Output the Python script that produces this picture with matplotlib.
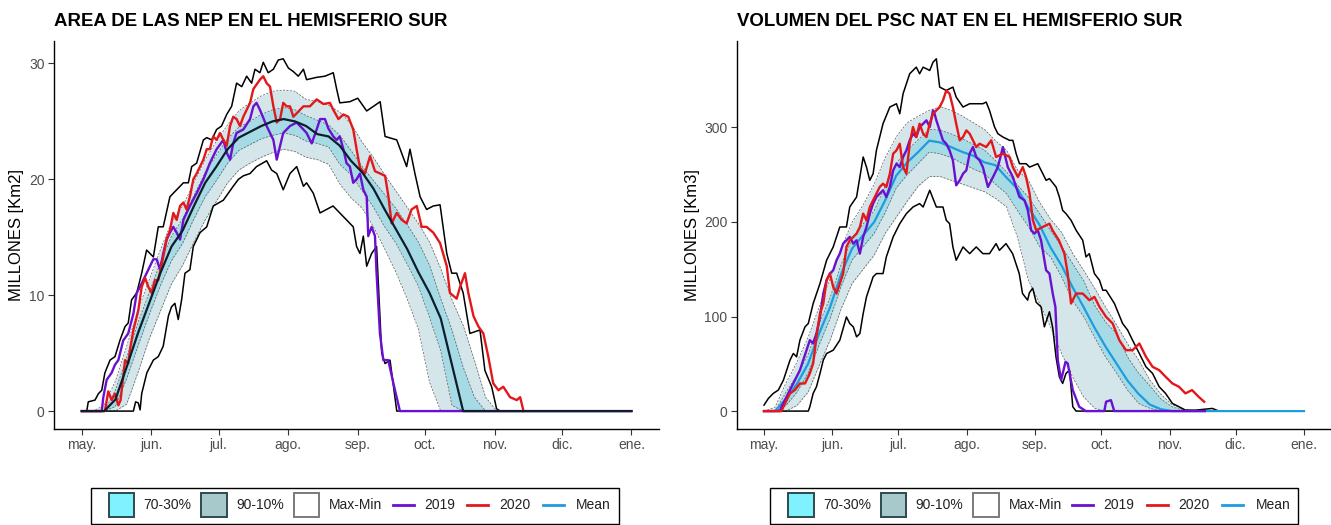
import numpy as np
import matplotlib.pyplot as plt
from matplotlib.patches import Rectangle

plt.rcParams['font.family'] = ['Liberation Sans', 'DejaVu Sans']

nan = np.nan

# days counted from 1 May: every 5 days up to 210, then 31 Dec
days = list(range(0, 215, 5)) + [245]

month_pos = [0, 31, 61, 92, 123, 153, 184, 214, 245]
month_lab = ['may.', 'jun.', 'jul.', 'ago.', 'sep.', 'oct.', 'nov.', 'dic.', 'ene.']

# ---- area of NAT (millions km2): climatology on the 5-day grid
area_mean = [0, 0, 0, 1.0, 3.8, 6.7, 9.3, 11.9, 14.2, 15.6,
             17.7, 19.7, 21.1, 22.6, 23.6, 24.1, 24.6, 25.0, 25.2, 25.0,
             24.6, 23.9, 23.7, 22.9, 21.6, 20.6, 19.2, 17.4, 15.7, 14.0,
             12.0, 10.2, 8.0, 4.0, 0, 0, 0, 0, 0, 0,
             0, 0, 0, 0]
area_p90 = [0, 0, 0.5, 2.6, 5.6, 8.7, 11.3, 13.9, 16.3, 17.7,
            19.7, 21.7, 23.3, 24.7, 25.9, 26.6, 27.2, 27.6, 27.7, 27.6,
            26.9, 26.7, 26.4, 25.8, 24.8, 23.2, 21.9, 20.4, 19.0, 17.6,
            16.2, 14.6, 12.3, 9.6, 7.4, 4.4, 1.2, 0, 0, 0,
            0, 0, 0, 0]
area_p70 = [0, 0, 0, 1.8, 4.6, 7.6, 10.2, 12.8, 15.1, 16.6,
            18.6, 20.6, 22.1, 23.5, 24.5, 25.0, 25.6, 26.0, 26.2, 26.0,
            25.5, 25.1, 24.7, 23.8, 22.5, 21.1, 19.9, 18.7, 17.5, 16.1,
            14.6, 12.6, 9.7, 7.0, 3.8, 1.2, 0, 0, 0, 0,
            0, 0, 0, 0]
area_p30 = [0, 0, 0, 0.4, 2.8, 5.6, 8.3, 10.8, 13.0, 14.5,
            16.6, 18.5, 19.9, 21.4, 22.5, 23.0, 23.5, 23.8, 24.0, 23.8,
            23.3, 23.1, 22.8, 21.3, 20.4, 19.0, 17.6, 15.9, 14.5, 12.7,
            10.8, 8.1, 5.2, 0.5, 0, 0, 0, 0, 0, 0,
            0, 0, 0, 0]
area_p10 = [0, 0, 0, 0, 0.6, 3.3, 6.2, 8.6, 11.0, 12.6,
            14.6, 16.5, 18.1, 19.7, 20.8, 21.4, 21.9, 22.3, 22.6, 22.4,
            21.9, 21.7, 21.3, 19.6, 18.4, 17.5, 15.9, 14.0, 12.0, 9.7,
            7.1, 2.5, 0, 0, 0, 0, 0, 0, 0, 0,
            0, 0, 0, 0]

# daily-ish traces as (day, value)
area_max = [(0, 0), (2.2, 0), (2.9, 0.8), (5.9, 0.95), (7.4, 1.5), (8.9, 1.8), (10.3, 3.3),
            (12.6, 4.4), (14.8, 4.7), (17, 6.1), (19.3, 7.3), (20.7, 7.6), (22.2, 9.6),
            (24.5, 10.2), (26.7, 11.9), (28.9, 13.9), (31.9, 13.3), (34.1, 15.9), (36.3, 15.9),
            (39.3, 18.5), (42.3, 19.1), (45.3, 19.7), (47.5, 19.7), (49, 21.1), (51.2, 21.4),
            (54.2, 23.4), (55.7, 23.6), (57.9, 23.4), (60.1, 24.3), (62.3, 24.6), (64.6, 25.6),
            (66.8, 26.3), (69, 28.3), (71.3, 28.0), (73.5, 28.9), (75.7, 28.3), (77.2, 29.5),
            (79.4, 29.2), (80.9, 30.1), (83.1, 29.2), (85.4, 29.5), (87.6, 30.3), (89.8, 30.4),
            (92.1, 29.6), (94.3, 29.3), (96.5, 28.9), (98.8, 29.5), (100.2, 28.6), (104.7, 28.8),
            (108.4, 28.9), (112.1, 29.2), (113.6, 27.8), (115, 26.6), (119.5, 26.7), (123, 27.0),
            (127, 25.9), (130, 26.3), (133, 26.7), (135.2, 23.7), (140.4, 23.4), (144.8, 21.1),
            (146.3, 22.6), (148.5, 20.5), (150.8, 18.5), (153.7, 17.4), (156.7, 17.7),
            (159.7, 17.8), (162.7, 13.6), (164.9, 11.9), (167.1, 11.9), (170, 10.2), (173, 6.7),
            (177.5, 7.0), (179.7, 3.5), (182.7, 2.1), (184.9, 0.2), (186.5, 0), (245, 0)]
area_min = [(0, 0), (23, 0), (24, 0.8), (25.2, 0.7), (26, 0.1), (26.7, 1.5), (29, 3.3),
            (31.9, 4.4), (34.1, 4.7), (36.3, 5.6), (38.6, 8.2), (40, 9.0), (41.5, 9.3), (43, 7.9),
            (44.5, 9.6), (46, 11.9), (48.2, 12.2), (49.7, 14.2), (52.7, 15.4), (55.7, 15.9),
            (58.6, 17.7), (63.1, 18.2), (67.5, 19.4), (69.8, 20.0), (72, 20.3), (75, 20.5),
            (77.9, 21.1), (82.4, 21.6), (84.6, 20.8), (86.9, 20.5), (89.8, 19.1), (92.8, 20.5),
            (95.8, 21.1), (98.8, 19.4), (100.2, 19.7), (103.2, 18.8), (106.2, 17.1), (109.1, 17.4),
            (112, 17.7), (115, 17.1), (118, 16.5), (121, 15.9), (122.5, 14.2), (124, 13.6),
            (125.5, 15.1), (127, 12.5), (129.2, 13.6), (131.4, 14.2), (133.7, 5.0), (135.2, 4.1),
            (137.4, 4.4), (140.4, 0), (245, 0)]
area_2019 = [(0, 0), (8.9, 0), (9.6, 1.2), (11.1, 2.7), (13.3, 3.3), (14.8, 4.0), (16.3, 4.4),
             (18.5, 6.1), (20.7, 6.7), (23, 8.4), (24.5, 10.2), (25.9, 10.7), (27.4, 11.3),
             (28.9, 11.9), (30.4, 12.5), (31.9, 13.1), (33.4, 13.1), (34.9, 12.2), (36.3, 13.6),
             (37.8, 14.8), (39.3, 15.4), (40.8, 15.9), (42.3, 15.4), (43.8, 14.8), (45.3, 16.5),
             (46.7, 17.1), (48.2, 17.7), (51.2, 18.8), (54.2, 20.0), (57.1, 21.4), (60.1, 22.6),
             (63.1, 23.4), (64.6, 22.3), (66.1, 21.7), (67.5, 23.1), (69, 24.0), (72, 24.3),
             (75, 25.2), (76.5, 26.3), (77.9, 26.6), (79.4, 26.0), (82.4, 24.6), (85.4, 23.4),
             (86.9, 21.7), (88.4, 22.9), (89.8, 24.0), (92.8, 24.6), (95.8, 24.9), (98.8, 24.3),
             (100.2, 24.0), (102.5, 23.1), (104.7, 24.3), (106.2, 25.2), (108.4, 25.2),
             (109.9, 24.4), (112.1, 23.7), (113.6, 23.4), (115, 23.7), (116.6, 22.6), (118, 21.4),
             (119.5, 21.1), (121, 19.7), (122.5, 20.0), (124, 20.5), (125.5, 19.1), (127, 18.5),
             (127.7, 15.1), (129.2, 15.9), (130.7, 15.1), (131.4, 11.9), (132.9, 6.7),
             (134.4, 4.4), (136.6, 4.4), (138.9, 2.4), (141.8, 0), (245, 0)]
area_2020 = [(0, 0), (10.3, 0), (11.8, 1.7), (13.3, 0.95), (14.8, 1.5), (16.3, 0.5), (17.3, 0.95),
             (19.3, 4.4), (20.7, 4.1), (21.5, 5.3), (23, 7.0), (25.2, 8.7), (26.7, 10.7),
             (28.2, 11.5), (29.7, 10.7), (31.1, 10.2), (32.6, 11.3), (34.1, 11.3), (36.3, 13.3),
             (37.8, 14.8), (39.3, 15.6), (40.8, 17.1), (42.3, 16.5), (43.8, 17.7), (45.3, 18.0),
             (46.7, 17.4), (48.2, 18.5), (49.7, 20.0), (51.2, 20.5), (54.2, 21.7), (55.7, 22.6),
             (57.1, 22.6), (58.6, 23.7), (60.1, 23.4), (61.6, 24.0), (63.1, 23.4), (64.6, 22.9),
             (66.1, 24.6), (67.5, 25.4), (69, 25.2), (70.5, 24.6), (72, 25.4), (75, 26.6),
             (76.5, 27.8), (79.4, 28.6), (80.9, 28.9), (82.4, 28.3), (83.9, 28.0), (85.4, 26.3),
             (86.9, 24.9), (88.4, 25.2), (89.8, 26.6), (91.3, 26.3), (92.8, 26.3), (94.3, 25.4),
             (95.8, 25.7), (98.8, 26.3), (101.7, 26.3), (104.7, 26.9), (107.7, 26.5),
             (110.6, 26.6), (112.1, 26.0), (114.4, 25.2), (116.6, 25.6), (118.8, 25.4),
             (121, 24.3), (122.5, 22.6), (124, 21.0), (126.2, 20.5), (128.5, 22.0), (130.7, 20.7),
             (133, 20.5), (135.2, 20.3), (136.7, 18.5), (138.1, 16.2), (140.4, 17.1),
             (142.6, 16.5), (144.8, 16.2), (147, 17.4), (149.3, 17.7), (151.5, 15.9),
             (153.7, 15.9), (156.7, 15.4), (159.7, 14.5), (162.7, 12.5), (164.1, 10.2),
             (167.1, 9.7), (168.6, 10.7), (170.8, 11.9), (172.3, 10.2), (174.6, 8.2), (176.8, 7.3),
             (179, 6.7), (181.2, 4.7), (183.4, 2.4), (185.7, 1.8), (187.9, 2.1), (190.9, 1.2),
             (193.9, 0.95), (195.4, 1.2), (196.9, 0)]

# ---- volume of NAT PSC (millions km3): climatology on the 5-day grid
vol_mean = [0, 0, 13, 29, 50, 82, 110, 145, 172, 186,
            200, 223, 249, 263, 274, 286, 284, 279, 274, 270,
            263, 260, 247, 235, 215, 197, 173, 154, 131, 110,
            88, 68, 50, 32, 18, 7, 2, 0, 0, 0,
            0, 0, 0, 0]
vol_p90 = [0, 4, 30, 52, 78, 110, 140, 172, 200, 218,
           240, 268, 290, 305, 312, 318, 322, 318, 312, 305,
           298, 286, 276, 255, 244, 221, 203, 189, 167, 149,
           130, 110, 91, 71, 54, 33, 18, 7, 2, 0.5,
           0, 0, 0, 0]
vol_p70 = [0, 0, 20, 38, 60, 92, 120, 155, 182, 198,
           212, 238, 262, 276, 287, 298, 297, 293, 288, 282,
           276, 265, 253, 239, 226, 209, 191, 174, 156, 138,
           112, 94, 82, 57, 40, 27, 13, 4.6, 1, 0,
           0, 0, 0, 0]
vol_p30 = [0, 0, 6, 20, 40, 70, 98, 132, 160, 174,
           188, 210, 236, 250, 262, 274, 272, 268, 262, 256,
           251, 240, 230, 212, 195, 174, 163, 142, 117, 100,
           78, 57, 40, 22, 8, 3, 0, 0, 0, 0,
           0, 0, 0, 0]
vol_p10 = [0, 0, 0, 6, 20, 48, 75, 108, 135, 150,
           165, 188, 205, 222, 238, 248, 248, 244, 240, 236,
           232, 225, 216, 184, 138, 114, 89, 61, 36, 15,
           3, 0, 0, 0, 0, 0, 0, 0, 0, 0,
           0, 0, 0, 0]

vol_max = [(0, 6.3), (2, 13.4), (4.2, 18.7), (6.5, 22.2), (8.8, 32.7), (11.8, 53.9), (13.3, 60.9),
           (14.8, 57.4), (16.3, 75), (18.6, 89.1), (20.1, 92.6), (22.3, 113.7), (25.4, 134.9),
           (28.4, 159.5), (31.4, 173.6), (34.4, 194.7), (37.4, 194.7), (38.9, 215.8),
           (42, 226.4), (45, 268.7), (46.5, 258), (48, 244), (49.5, 251), (51, 275.7),
           (54, 303.9), (57.1, 321.5), (60.1, 325), (61.6, 314.4), (63.1, 335.6), (66.1, 356.7),
           (69.1, 363.7), (70.6, 356.7), (72.2, 363.7), (75.2, 360.2), (76.7, 369),
           (78.2, 372.5), (79.7, 342.6), (82.7, 339), (85.7, 342.6), (87.2, 332), (90.3, 321.5),
           (93.3, 325), (96.3, 325), (99.3, 325), (100.8, 326.8), (102.3, 318), (104.6, 300.4),
           (106.1, 293.3), (108.4, 289.8), (111.4, 286.3), (112.9, 286.3), (114.4, 272.2),
           (115.9, 261.6), (118.9, 261.6), (120.5, 258), (124.2, 261.6), (126.5, 251),
           (128, 244), (129.5, 245.8), (132.5, 237), (134, 226.4), (135.5, 212.3), (137, 208.8),
           (139.3, 201.8), (141.6, 191.2), (144.6, 180.6), (146.1, 163), (147.6, 166.5),
           (149.9, 145.4), (152.2, 138.4), (153.7, 127.8), (155.2, 127.8), (159, 113.7),
           (162.7, 92.6), (165, 85.6), (167.2, 75), (170.3, 60.9), (173.3, 46.8), (176.3, 39.8),
           (179.3, 25.7), (182.2, 18.7), (185.3, 8.1), (188.3, 4.6), (191.2, 1), (195.8, 1),
           (203.4, 2.8), (206.4, 0), (245, 0)]
vol_min = [(0, 0), (20.1, 0), (20.8, 4.6), (22.3, 18.7), (23.8, 25.7), (25.4, 39.8), (26.9, 53.9),
           (28.4, 60.9), (31.4, 64.4), (34.4, 75), (37.4, 99.6), (38.9, 92.6), (40.5, 89.1),
           (42, 78.5), (43.5, 82), (45, 103.2), (46.5, 120.8), (48, 131.3), (49.5, 141.9),
           (51, 145.4), (54, 145.4), (55.5, 163), (58.6, 184.2), (61.6, 198.2), (64.6, 208.8),
           (67.6, 215.8), (70.6, 219.4), (72.2, 215.8), (75.2, 233.5), (78.2, 215.8),
           (81.2, 215.8), (82.7, 201.8), (84.2, 198.2), (85.7, 173.6), (87.2, 159.5),
           (90.3, 173.6), (93.3, 166.5), (96.3, 173.6), (99.3, 166.5), (102.3, 166.5),
           (105.3, 177.1), (106.8, 170), (109.8, 177.1), (112.8, 166.5), (115.8, 145.4),
           (117.3, 124.3), (119.6, 117.3), (120.4, 125), (121.9, 130), (123.5, 115),
           (125.7, 110.2), (127.2, 89.1), (129.5, 105), (131, 88), (132.5, 57), (134, 36.3),
           (135.5, 29.2), (137, 39.8), (138.6, 43.3), (140.1, 4.6), (141.6, 0), (245, 0)]
vol_2019 = [(0, 0), (7.2, 0), (8, 4.6), (9.5, 11.6), (11, 18.7), (12.5, 25.7), (14.8, 36.3),
            (16.3, 43.3), (17.8, 53.9), (19.3, 64.4), (20.8, 75), (22.3, 71.5), (23.8, 82),
            (25.4, 99.6), (26.9, 124.3), (28.4, 138.4), (29.9, 145.4), (31.4, 148.9),
            (32.9, 159.5), (34.4, 166.5), (35.9, 177.1), (37.4, 180.6), (38.9, 184.2),
            (40.5, 177.1), (42, 180.6), (43.5, 166.5), (45, 184.2), (46.5, 194.7), (48, 208.8),
            (49.5, 219.4), (51, 226.4), (54, 233.5), (55.5, 226.4), (57.1, 237), (58.6, 254.6),
            (60.1, 261.6), (61.6, 258), (63.1, 268.7), (64.6, 275.7), (66.1, 286.3),
            (67.6, 293.3), (69.1, 289.8), (70.6, 300.4), (72.2, 303.9), (73.7, 307.4),
            (75.2, 300.4), (76.7, 318), (77.4, 314.4), (78.2, 307.4), (79.7, 296.8),
            (81.2, 286.3), (82.7, 282.7), (84.2, 275.7), (85.7, 265.1), (87.2, 238.7),
            (88.8, 244), (90.3, 251), (91.8, 254.6), (93.3, 272.2), (94.8, 279.2), (96.3, 268.7),
            (97.8, 265.1), (99.3, 258), (101.6, 237), (103.9, 247.5), (106.1, 258),
            (108.4, 279.2), (110.6, 258), (112.9, 247.5), (115.9, 226.4), (118.2, 222.9),
            (119.7, 212.3), (121.2, 191.2), (122.7, 187.7), (124.2, 191.2), (125.7, 180.6),
            (128, 148.9), (129.5, 145.4), (131, 124.3), (132.2, 110.2), (133.3, 53.9),
            (134.8, 32.7), (136.8, 52.1), (137.8, 50.4), (140.1, 22.2), (143, 4.6), (146, 0),
            (154.4, 0), (155.2, 9.9), (157.4, 11.6), (158.9, 0), (200, 0)]
vol_2020 = [(0, 0), (8, 0), (8.8, 4.6), (10.3, 11.6), (11.8, 18.7), (14, 22.2), (16.3, 29.2),
            (18.6, 29.2), (20.8, 39.8), (22.3, 50.4), (23.8, 78.5), (25.4, 103), (26.9, 113.7),
            (28.4, 138.4), (29.9, 145.4), (31.4, 131.3), (32.9, 124.3), (34.4, 134.9),
            (35.9, 145.4), (37.4, 173.6), (38.9, 180.6), (40.5, 184.2), (42, 187.7),
            (43.5, 194.7), (45, 208.8), (46.5, 201.8), (48, 215.8), (49.5, 222.9), (51, 229.9),
            (52.5, 237), (54, 240.5), (55.5, 237), (57.1, 251), (58.6, 272.2), (60.1, 275.7),
            (61.6, 282.7), (63.1, 258), (64.6, 251), (66.1, 282.7), (67.6, 300.4), (69.1, 289.8),
            (70.6, 303.9), (72.2, 293.3), (73.7, 289.8), (75.2, 303.9), (76.7, 314.4),
            (78.2, 318), (79.7, 321.5), (81.2, 328.5), (82.7, 339), (84.2, 335.6), (85.7, 321.5),
            (87.2, 303.9), (88.8, 286.3), (90.3, 289.8), (91.8, 296.8), (93.3, 293.3),
            (94.8, 286.3), (96.3, 279.2), (97.8, 282.7), (100.8, 279.2), (103.1, 286.3),
            (105.3, 268.7), (108.4, 272.2), (111.4, 268.7), (112.9, 258), (115.2, 247.5),
            (117.4, 258), (118.9, 247.5), (120.5, 230), (122, 201.8), (123.5, 191.2),
            (126.5, 194.7), (129.5, 198.2), (130.9, 191.2), (133.8, 180.6), (136.3, 166.5),
            (137.8, 145.4), (139.3, 113.7), (141.6, 124.3), (144.6, 124.3), (147.6, 117.3),
            (149.9, 120.8), (152.2, 110.2), (155.2, 99.6), (158.2, 92.6), (161.2, 75),
            (164.2, 64.4), (167.2, 64.4), (170.3, 71.5), (173.3, 57.4), (176.3, 46.8),
            (179.3, 43.3), (182.2, 36.3), (185.3, 29.2), (188.3, 25.7), (191.2, 18.7),
            (194.2, 22.2), (197.2, 15.1), (199.7, 9.9)]

W, H = 1331, 525
fig = plt.figure(figsize=(W / 100, H / 100), dpi=100)

c_1090 = '#D4E6EA'
c_3070 = '#A6DBE5'
c_2019 = '#6A10D0'
c_2020 = '#E3181C'
c_mean = '#1F9BDF'


def trace(ax, pts, **kw):
    x, y = zip(*pts)
    ax.plot(x, y, **kw)


def panel(rect, p10, p30, p70, p90, mean, vmax, vmin, y19, y20,
          mean_col, mean_top, yticks):
    ax = fig.add_axes(rect)
    ax.fill_between(days, p10, p90, color=c_1090, lw=0)
    ax.fill_between(days, p30, p70, color=c_3070, lw=0)
    for s in (p10, p30, p70, p90):
        ax.plot(days, s, color='#5a5a5a', lw=0.5, ls=(0, (3, 2)))
    trace(ax, vmax, color='black', lw=1.1)
    trace(ax, vmin, color='black', lw=1.1)
    ax.plot(days, mean, color=mean_col, lw=1.6, zorder=6 if mean_top else 3)
    trace(ax, y19, color=c_2019, lw=1.7, zorder=4)
    trace(ax, y20, color=c_2020, lw=1.7, zorder=5)
    top = max(v for _, v in vmax)
    ax.set_ylim(-0.05 * top, 1.05 * top)
    ax.set_xlim(-12.25, 257.25)
    ax.set_xticks(month_pos)
    ax.set_xticklabels(month_lab)
    ax.set_yticks(yticks)
    for sp in ('top', 'right'):
        ax.spines[sp].set_visible(False)
    for sp in ('left', 'bottom'):
        ax.spines[sp].set_linewidth(1.0)
    ax.tick_params(labelsize=10, labelcolor='#4D4D4D', color='#333333',
                   length=4, width=0.8, pad=3)
    return ax


panel([54.3 / W, 96.3 / H, 604.6 / W, 387.5 / H],
      area_p10, area_p30, area_p70, area_p90, area_mean, area_max, area_min,
      area_2019, area_2020, '#0E1D2B', True, [0, 10, 20, 30])
panel([737 / W, 96.3 / H, 594 / W, 387.5 / H],
      vol_p10, vol_p30, vol_p70, vol_p90, vol_mean, vol_max, vol_min,
      vol_2019, vol_2020, c_mean, False, [0, 100, 200, 300])

fig.text(54 / W, 1 - 21 / H, 'AREA DE LAS NEP EN EL HEMISFERIO SUR',
         fontsize=13.4, fontweight='bold', va='center', ha='left')
fig.text(737 / W, 1 - 21 / H, 'VOLUMEN DEL PSC NAT EN EL HEMISFERIO SUR',
         fontsize=13.4, fontweight='bold', va='center', ha='left')
fig.text(17 / W, 1 - 235 / H, 'MILLONES [Km2]', rotation=90,
         fontsize=12, va='center', ha='center')
fig.text(692 / W, 1 - 235 / H, 'MILLONES [Km3]', rotation=90,
         fontsize=12, va='center', ha='center')

# legends drawn in pixel space
lg = fig.add_axes([0, 0, 1, 1], zorder=10)
lg.set_xlim(0, W)
lg.set_ylim(H, 0)
lg.axis('off')


def legend(x0):
    lg.add_patch(Rectangle((x0, 488), 528, 36, fc='white', ec='black', lw=1.0))
    yc = 505
    boxes = [(18.2, '#80F2FF', '#2E4A4C', '70-30%', 53),
             (110.5, '#A7C9CB', '#2E4A4C', '90-10%', 145.6),
             (203, 'white', '#7a7a7a', 'Max-Min', 238.3)]
    for bx, fc, ec, lab, tx in boxes:
        lg.add_patch(Rectangle((x0 + bx, 492.5), 25.5, 24.5, fc=fc, ec=ec, lw=1.4))
        lg.text(x0 + tx, yc, lab, fontsize=10, va='center', ha='left', color='#222222')
    keys = [(302, c_2019, '2019', 333.2),
            (376.5, c_2020, '2020', 408.2),
            (452, c_mean, 'Mean', 485.2)]
    for lx, col, lab, tx in keys:
        lg.plot([x0 + lx, x0 + lx + 21], [yc, yc], color=col, lw=2.0)
        lg.text(x0 + tx, yc, lab, fontsize=10, va='center', ha='left', color='#222222')


legend(90.6)
legend(770.2)

fig.savefig('out.png', dpi=100)
